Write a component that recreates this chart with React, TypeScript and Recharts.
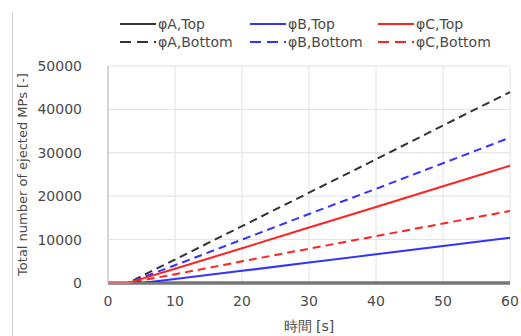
import { LineChart, Line, XAxis, YAxis, CartesianGrid } from "recharts";

const times = [0, 3, 5, 10, 20, 30, 40, 50, 60];
const aTop = [0, 0, 0, 0, 0, 0, 0, 0, 0];
const aBottom = [0, 0, 1600, 5400, 13100, 20800, 28500, 36300, 44000];
const bTop = [0, 0, 0, 900, 2800, 4700, 6600, 8500, 10400];
const bBottom = [0, 0, 1200, 4100, 10000, 15900, 21700, 27600, 33500];
const cTop = [0, 0, 950, 3300, 8000, 12800, 17500, 22300, 27000];
const cBottom = [0, 0, 600, 2000, 5000, 7900, 10800, 13700, 16600];
const xTicks = [0, 10, 20, 30, 40, 50, 60];
const yTicks = [0, 10000, 20000, 30000, 40000, 50000];

const data = times.map((t, i) => ({
  t,
  aTop: aTop[i],
  aBottom: aBottom[i],
  bTop: bTop[i],
  bBottom: bBottom[i],
  cTop: cTop[i],
  cBottom: cBottom[i],
}));

const series = [
  { key: "aTop", name: "φA,Top", color: "#333333", dash: false },
  { key: "bTop", name: "φB,Top", color: "#3333ff", dash: false },
  { key: "cTop", name: "φC,Top", color: "#ff2222", dash: false },
  { key: "aBottom", name: "φA,Bottom", color: "#333333", dash: true },
  { key: "bBottom", name: "φB,Bottom", color: "#3333ff", dash: true },
  { key: "cBottom", name: "φC,Bottom", color: "#ff2222", dash: true },
];

const font = "'DejaVu Sans', sans-serif";
const textColor = "#4a4a4a";

function LegendBox() {
  const cols = [120, 250, 378];
  return (
    <div style={{ position: "absolute", left: 0, top: 0, width: 521, height: 50 }}>
      {series.map((s, i) => {
        const left = cols[i % 3];
        const top = i < 3 ? 16 : 34;
        return (
          <div
            key={s.key}
            style={{ position: "absolute", left, top, display: "flex", alignItems: "center", fontSize: 14, lineHeight: "16px", color: textColor, fontFamily: font, whiteSpace: "nowrap" }}
          >
            <svg width={36} height={16}>
              <line x1={0} y1={8} x2={36} y2={8} stroke={s.color} strokeWidth={2} strokeDasharray={s.dash ? "11 6" : undefined} />
            </svg>
            <span style={{ marginLeft: 2 }}>{s.name}</span>
          </div>
        );
      })}
    </div>
  );
}

export default function App() {
  return (
    <div style={{ position: "absolute", left: 0, top: 0, width: 521, height: 336, background: "#fff" }}>
      <div style={{ position: "absolute", left: 12, top: 12, width: 1, height: 324, background: "#d0d0d0" }} />
      <LineChart width={521} height={336} data={data} margin={{ top: 66, right: 11, left: 0, bottom: 0 }}>
        <CartesianGrid stroke="#e2e2e2" strokeWidth={1} />
        <XAxis
          dataKey="t"
          type="number"
          domain={[0, 60]}
          ticks={xTicks}
          height={53}
          tickLine={false}
          axisLine={{ stroke: "#bbbbbb" }}
          tick={{ fontSize: 14, fill: textColor, fontFamily: font }}
          tickMargin={7}
          label={{ value: "時間 [s]", position: "insideBottom", offset: 5, fontSize: 14, fill: textColor, fontFamily: font }}
        />
        <YAxis
          type="number"
          domain={[0, 50000]}
          ticks={yTicks}
          width={108}
          tickLine={false}
          axisLine={{ stroke: "#bbbbbb" }}
          tick={{ fontSize: 14, fill: textColor, fontFamily: font, dx: -8 }}
          tickMargin={12}
          label={{ value: "Total number of ejected MPs [-]", angle: -90, position: "insideLeft", offset: 22, textAnchor: "middle", fontSize: 13, fill: textColor, fontFamily: font }}
        />
        <Line dataKey="aBottom" stroke="#333333" strokeWidth={2} strokeDasharray="8 5" dot={false} isAnimationActive={false} />
        <Line dataKey="bBottom" stroke="#3333ff" strokeWidth={2} strokeDasharray="8 5" dot={false} isAnimationActive={false} />
        <Line dataKey="cBottom" stroke="#ff2222" strokeWidth={2} strokeDasharray="8 5" dot={false} isAnimationActive={false} />
        <Line dataKey="bTop" stroke="#3333ff" strokeWidth={2} dot={false} isAnimationActive={false} />
        <Line dataKey="aTop" stroke="#333333" strokeWidth={3} dot={false} isAnimationActive={false} />
        <Line dataKey="cTop" stroke="#ff2222" strokeWidth={2} dot={false} isAnimationActive={false} />
      </LineChart>
      <LegendBox />
    </div>
  );
}
